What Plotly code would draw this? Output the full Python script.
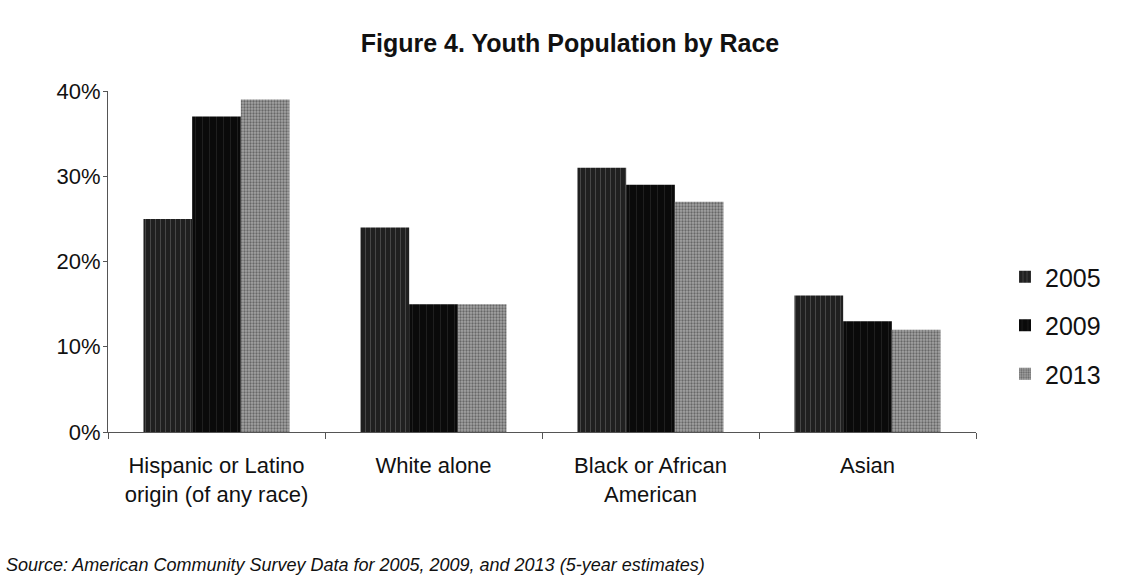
import plotly.graph_objects as go

categories = ["Hispanic or Latino<br>origin (of any race)", "White alone", "Black or African<br>American", "Asian"]
years = ["2005", "2009", "2013"]
values_2005 = [0.25, 0.24, 0.31, 0.16]
values_2009 = [0.37, 0.15, 0.29, 0.13]
values_2013 = [0.39, 0.15, 0.27, 0.12]

FONT = "Arial, Liberation Sans, sans-serif"

styles = {
    "2005": dict(color="#202020", pattern=dict(shape="|", fgcolor="#6e6e6e", size=5, solidity=0.2)),
    "2009": dict(color="#0a0a0a", pattern=dict(shape="|", fgcolor="#3a3a3a", size=7, solidity=0.12)),
    "2013": dict(color="#a4a4a4", pattern=dict(shape=".", fgcolor="#2a2a2a", size=3, solidity=0.45)),
}

L, R, T, B = 108, 150, 91, 152
PW, PH = 1126 - L - R, 584 - T - B

fig = go.Figure()
for yr, vals in zip(years, [values_2005, values_2009, values_2013]):
    st = styles[yr]
    fig.add_trace(go.Bar(
        x=categories, y=vals, name=yr, legendgroup=yr,
        marker=dict(color=st["color"], pattern=st["pattern"], line=dict(width=0)),
    ))

fig.update_layout(
    width=1126, height=584,
    paper_bgcolor="white", plot_bgcolor="white",
    barmode="group", bargap=0.327, bargroupgap=0,
    margin=dict(l=L, r=R, t=T, b=B, autoexpand=False),
    font=dict(family=FONT, size=22, color="#111111"),
    title=dict(text="<b>Figure 4. Youth Population by Race</b>", x=570 / 1126, xref="container",
               y=1 - 43 / 584, yref="container", xanchor="center", yanchor="middle",
               font=dict(size=25, family=FONT, color="#111111")),
    legend=dict(x=1005 / 1126, xref="container", y=1 - 254 / 584, yref="container", yanchor="top",
                xanchor="left", font=dict(size=25, family=FONT), tracegroupgap=13,
                traceorder="grouped", itemwidth=30, bgcolor="rgba(0,0,0,0)"),
    xaxis=dict(showline=True, linecolor="#555555", linewidth=1, ticks="outside",
               tickson="boundaries", ticklen=6, tickcolor="#555555", showgrid=False,
               ticklabelstandoff=14, tickfont=dict(size=22, family=FONT)),
    yaxis=dict(range=[0, 0.4], tickvals=[0, 0.1, 0.2, 0.3, 0.4], ticktext=["0%", "10%", "20%", "30%", "40%"],
               showline=True, linecolor="#555555", linewidth=1, ticks="outside", ticklen=4,
               tickcolor="#555555", showgrid=False, zeroline=False, ticklabelstandoff=-2,
               tickfont=dict(size=22, family=FONT)),
    annotations=[dict(text="<i>Source: American Community Survey Data for 2005, 2009, and 2013 (5-year estimates)</i>",
                      xref="paper", yref="paper", x=(4 - L) / PW, y=(584 - B - 565) / PH,
                      xanchor="left", yanchor="middle", showarrow=False,
                      font=dict(size=18, family=FONT, color="#111111"))],
)

fig.write_html("out.html", config={"displayModeBar": False},
               post_script="document.body.style.margin='0';document.body.style.padding='0';")
